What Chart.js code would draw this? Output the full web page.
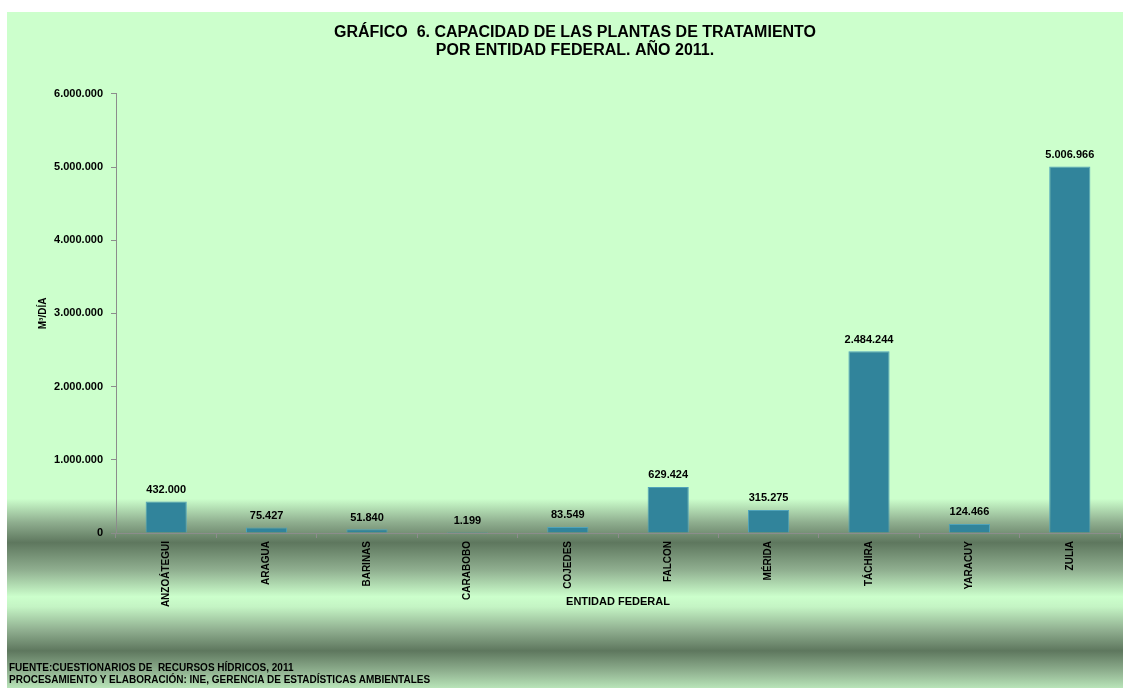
<!DOCTYPE html>
<html>
<head>
<meta charset="utf-8">
<script src="https://cdn.jsdelivr.net/npm/chart.js@4/dist/chart.umd.min.js"></script>
<style>
  html, body { margin: 0; padding: 0; background: #ffffff; }
  #wrap { position: relative; width: 1123px; height: 688px; overflow: hidden; }
  #bg {
    position: absolute; left: 7px; top: 12px; width: 1116px; height: 676px;
    background: linear-gradient(to bottom,
      #ccffcc 0%, #ccffcc 72%, #8fae8f 75.5%, #5e775e 78.5%, #8fae8f 82.5%,
      #ccffcc 86.5%, #c4f4c4 88%, #8fae8f 91.5%, #5e775e 94.5%, #8fb08f 97.5%, #b8e4b8 100%);
  }
  #chart { position: absolute; left: 0; top: 0; }
  #fuente {
    position: absolute; left: 9px; top: 662px;
    font: bold 10px "Liberation Sans", Arial, sans-serif; line-height: 12px; color: #000;
  }
</style>
</head>
<body>
<div id="wrap">
  <div id="bg"></div>
  <canvas id="chart" width="1123" height="688"></canvas>
  <div id="fuente">FUENTE:CUESTIONARIOS DE&nbsp; RECURSOS HÍDRICOS, 2011<br>PROCESAMIENTO Y ELABORACIÓN: INE, GERENCIA DE ESTADÍSTICAS AMBIENTALES</div>
</div>
<script>
var entidades = ['ANZOÁTEGUI', 'ARAGUA', 'BARINAS', 'CARABOBO', 'COJEDES', 'FALCON', 'MÉRIDA', 'TÁCHIRA', 'YARACUY', 'ZULIA'];
var capacidad = [432000, 75427, 51840, 1199, 83549, 629424, 315275, 2484244, 124466, 5006966];
var tituloLineas = ['GRÁFICO  6. CAPACIDAD DE LAS PLANTAS DE TRATAMIENTO', 'POR ENTIDAD FEDERAL. AÑO 2011.'];
var ejeY = { min: 0, max: 6000000, paso: 1000000 };

function puntos(n) {
    return String(Math.round(n)).replace(/\B(?=(\d{3})+(?!\d))/g, '.');
}

var FONT = '"Liberation Sans", Arial, sans-serif';

// valores encima de cada barra
var etiquetas = {
    id: 'etiquetas',
    afterDatasetsDraw: function(chart) {
        var ctx = chart.ctx;
        var meta = chart.getDatasetMeta(0);
        ctx.save();
        ctx.font = 'bold 11px ' + FONT;
        ctx.fillStyle = '#000';
        ctx.textAlign = 'center';
        ctx.textBaseline = 'bottom';
        meta.data.forEach(function(bar, i) {
            ctx.fillText(puntos(capacidad[i]), bar.x, bar.y - 6);
        });
        ctx.restore();
    }
};

new Chart(document.getElementById('chart').getContext('2d'), {
    type: 'bar',
    data: {
        labels: entidades,
        datasets: [{
            data: capacidad,
            backgroundColor: '#31849b',
            borderColor: '#4fa3ba',
            borderWidth: 1,
            categoryPercentage: 1,
            barPercentage: 0.41
        }]
    },
    options: {
        responsive: false,
        animation: false,
        layout: { padding: { left: 30, top: 12, right: 3, bottom: 79 } },
        plugins: {
            legend: { display: false },
            tooltip: { enabled: false },
            title: {
                display: true,
                text: tituloLineas,
                color: '#000',
                font: { family: FONT, size: 16, weight: 'bold', lineHeight: 1.15 },
                padding: { top: 11, bottom: 34 }
            }
        },
        scales: {
            x: {
                afterFit: function(s) { s.height = 76; },
                border: { color: '#8c8c8c' },
                grid: { drawOnChartArea: false, drawTicks: true, tickLength: 5, color: '#8c8c8c' },
                ticks: {
                    color: '#000',
                    font: { family: FONT, size: 10, weight: 'bold' },
                    minRotation: 90, maxRotation: 90, padding: 3
                },
                title: {
                    display: true, text: 'ENTIDAD FEDERAL', color: '#000',
                    font: { family: FONT, size: 11, weight: 'bold' },
                    padding: 0
                }
            },
            y: {
                min: ejeY.min, max: ejeY.max,
                afterFit: function(s) { s.width = 86; },
                border: { color: '#8c8c8c' },
                grid: { drawOnChartArea: false, drawTicks: true, tickLength: 5, color: '#8c8c8c' },
                ticks: {
                    stepSize: ejeY.paso,
                    color: '#000',
                    padding: 8,
                    font: { family: FONT, size: 11, weight: 'bold' },
                    callback: function(v) { return puntos(v); }
                },
                title: {
                    display: true, text: 'M³/DÍA', color: '#000',
                    font: { family: FONT, size: 10, weight: 'bold' },
                    padding: { top: 7, bottom: 0 }
                }
            }
        }
    },
    plugins: [etiquetas]
});
</script>
</body>
</html>
